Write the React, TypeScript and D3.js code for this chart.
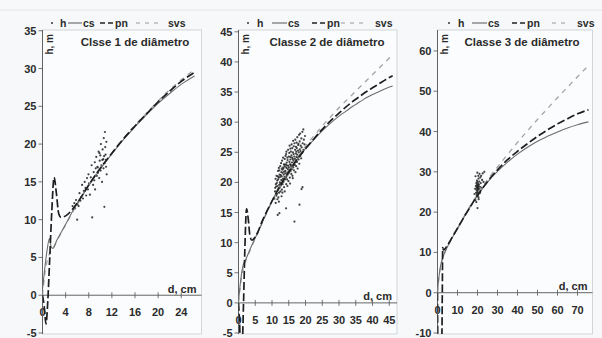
import React, { useEffect } from 'react';
import * as d3 from 'd3';

type P = [number, number];

// ---------- Panel 1 ----------
const p1Title = 'Clsse 1 de diâmetro';
const p1XTicks = [0, 4, 8, 12, 16, 20, 24];
const p1YTicks = [-5, 0, 5, 10, 15, 20, 25, 30, 35];
const p1Points: P[] = [
  [5.2, 11.8], [5.5, 12.2], [5.65, 11.5], [5.8, 12.6], [6.0, 10.0], [6.05, 12.0], [6.15, 12.3], [6.25, 11.8],
  [6.4, 13.5], [6.55, 12.5], [6.7, 13.0], [6.85, 14.6], [7.0, 12.8], [7.15, 13.8], [7.3, 15.0], [7.45, 14.2],
  [7.55, 13.2], [7.7, 15.5], [7.85, 14.0], [7.95, 16.0], [8.05, 14.8], [8.2, 13.3], [8.35, 15.6], [8.5, 17.2],
  [8.6, 10.3], [8.75, 14.6], [8.85, 16.3], [8.95, 15.2], [9.05, 17.6], [9.1, 14.0], [9.2, 16.8], [9.3, 18.3],
  [9.4, 15.8], [9.5, 17.0], [9.6, 16.2], [9.7, 19.0], [9.8, 15.5], [9.9, 17.8], [10.0, 18.5], [10.05, 16.5],
  [10.1, 20.0], [10.2, 17.2], [10.3, 15.0], [10.4, 19.3], [10.5, 18.0], [10.55, 16.8], [10.6, 20.8], [10.7, 11.7],
  [10.75, 17.5], [10.8, 21.6], [10.85, 19.6], [10.9, 18.6], [11.0, 17.0], [11.05, 20.3], [11.1, 16.0], [10.35, 17.9],
  [9.85, 18.8], [10.65, 18.4], [9.55, 16.9], [10.95, 17.9],
];
const p1Cs: P[] = [
  [0, 0.8], [0.4, 3.6], [0.8, 6.0], [1.2, 7.5], [1.5, 6.4], [1.8, 6.2], [2.5, 7.3], [3.5, 8.7], [4.5, 10.1],
  [5.5, 11.5], [6, 12.1], [8, 14.5], [10, 16.7], [12, 18.7], [14, 20.6], [16, 22.3], [18, 23.9], [20, 25.4],
  [22, 26.7], [24, 27.9], [26.3, 29.0],
];
const p1Pn: P[] = [
  [0, 0], [0.3, -1.5], [0.6, -3.8], [0.9, -1], [1.2, 4], [1.6, 11], [2.0, 15.6], [2.4, 13.5], [2.8, 10.8],
  [3.2, 10.3], [4.0, 10.5], [5.0, 11.2], [6.0, 12.2], [8, 14.6], [10, 16.8], [12, 18.8], [14, 20.7],
  [16, 22.4], [18, 24.0], [20, 25.6], [22, 27.0], [24, 28.3], [26.3, 29.5],
];
const p1Svs: P[] = [
  [0, 0], [0.4, 2.8], [0.9, 4.8], [1.4, 5.8], [1.8, 6.2], [2.5, 7.2], [3.5, 8.6], [4.5, 10.0], [5.5, 11.4],
  [6, 12.1], [8, 14.6], [10, 16.8], [12, 18.8], [14, 20.7], [16, 22.5], [18, 24.1], [20, 25.7], [22, 27.2],
  [24, 28.5], [26.3, 29.9],
];

// ---------- Panel 2 ----------
const p2Title = 'Classe 2 de diâmetro';
const p2XTicks = [0, 5, 10, 15, 20, 25, 30, 35, 40, 45];
const p2YTicks = [-5, 0, 5, 10, 15, 20, 25, 30, 35, 40, 45];
const p2Points: P[] = [
  [10.7, 17.3], [10.9, 18.5], [11.1, 16.6], [10.95, 19.1], [11.15, 19.7], [11.05, 20.6], [11.3, 17.8], [11.25, 19.3],
  [11.35, 21.1], [11.5, 18.1], [11.45, 19.9], [11.55, 20.3], [11.6, 17.2], [11.7, 18.7], [11.65, 19.4], [11.75, 21.0],
  [11.8, 21.9], [11.7, 14.6], [11.9, 17.5], [11.95, 19.0], [11.85, 20.5], [12.05, 22.4], [12.1, 18.3], [12.15, 19.6],
  [12.0, 20.8], [12.25, 21.3], [12.05, 16.8], [12.3, 19.1], [12.35, 20.0], [12.2, 22.0], [12.45, 22.7], [12.2, 14.9],
  [12.5, 18.5], [12.55, 19.8], [12.4, 20.9], [12.6, 21.2], [12.7, 23.2], [12.65, 19.5], [12.75, 20.4], [12.8, 21.7],
  [12.9, 22.3], [12.85, 17.7], [12.95, 18.8], [13.05, 20.3], [12.9, 21.0], [13.1, 22.1], [13.0, 23.6], [13.15, 19.7],
  [13.25, 20.6], [13.2, 21.6], [13.35, 22.5], [13.3, 24.1], [13.1, 18.3], [13.45, 20.1], [13.5, 21.3], [13.4, 22.3],
  [13.55, 23.0], [13.6, 19.2], [13.7, 20.9], [13.65, 21.8], [13.75, 22.9], [13.8, 23.9], [13.85, 20.5], [13.95, 21.5],
  [13.9, 22.6], [14.05, 24.4], [13.8, 18.5], [14.1, 20.8], [14.0, 21.9], [14.15, 23.0], [14.2, 24.7], [14.25, 19.7],
  [14.3, 21.0], [14.35, 22.4], [14.4, 23.3], [14.3, 25.1], [14.5, 20.5], [14.55, 21.6], [14.45, 22.8], [14.6, 24.1],
  [14.2, 15.7], [14.7, 21.3], [14.75, 22.2], [14.65, 23.7], [14.8, 25.4], [14.6, 19.4], [14.9, 20.2], [14.95, 21.8],
  [14.85, 22.8], [15.0, 24.3], [15.1, 21.6], [15.05, 22.5], [15.2, 23.4], [15.15, 24.9], [15.25, 26.1], [15.3, 20.8],
  [15.35, 22.1], [15.4, 23.0], [15.45, 24.2], [15.5, 25.6], [15.55, 21.9], [15.6, 22.9], [15.5, 23.8], [15.65, 25.1],
  [15.4, 19.8], [15.75, 21.4], [15.7, 22.6], [15.8, 24.5], [15.85, 26.3], [15.9, 22.2], [15.95, 23.3], [16.0, 24.1],
  [16.05, 25.7], [16.1, 21.1], [16.15, 22.8], [16.2, 23.9], [16.25, 25.0], [16.3, 26.9], [16.35, 22.5], [16.4, 23.6],
  [16.45, 24.7], [16.5, 26.0], [16.2, 20.7], [16.55, 22.0], [16.6, 23.2], [16.65, 24.3], [16.7, 26.5], [16.8, 22.9],
  [16.85, 23.9], [16.9, 25.4], [16.95, 27.1], [16.7, 13.5], [17.0, 21.7], [17.05, 23.5], [17.1, 24.8], [17.15, 25.9],
  [17.2, 22.7], [17.3, 24.2], [17.25, 25.1], [17.35, 26.6], [17.45, 23.4], [17.5, 24.6], [17.4, 25.7], [17.55, 27.5],
  [17.65, 22.3], [17.7, 24.1], [17.75, 25.3], [17.8, 26.2], [17.95, 23.8], [18.0, 25.0], [17.9, 26.4], [18.05, 27.9],
  [18.2, 16.3], [18.15, 23.1], [18.3, 25.5], [18.25, 26.8], [18.45, 24.4], [18.5, 25.2], [18.55, 26.1], [18.4, 28.1],
  [18.8, 18.9], [18.7, 24.0], [18.85, 25.8], [18.75, 27.3], [19.1, 19.2], [19.0, 24.9], [19.15, 26.5], [19.05, 28.4],
  [19.4, 25.4], [19.5, 27.1], [19.35, 28.8], [19.7, 26.3], [19.85, 27.7],
];
const p2Cs: P[] = [
  [0, 0.3], [0.5, 3], [1, 5.2], [1.4, 6.3], [2, 7.0], [3, 8.3], [4, 9.6], [5, 10.8], [6, 12.0], [8, 14.5],
  [10, 16.9], [12, 19.0], [14, 20.9], [16, 22.6], [18, 24.2], [20, 25.6], [22, 26.8], [24, 28.0], [26, 29.1],
  [28, 30.1], [30, 31.0], [32, 31.8], [34, 32.6], [36, 33.3], [38, 34.0], [40, 34.6], [42, 35.1], [44, 35.6],
  [46, 36.0],
];
const p2Pn: P[] = [
  [0, 0], [0.3, -3], [0.6, -7], [1.1, -7], [1.5, 0], [1.9, 9], [2.4, 15.6], [2.9, 14], [3.4, 11.2], [4.0, 10.4],
  [4.8, 10.8], [5.8, 11.8], [7, 13.5], [8, 14.7], [10, 16.9], [12, 19.0], [14, 20.9], [16, 22.6], [18, 24.2],
  [20, 25.6], [22, 26.9], [24, 28.2], [26, 29.4], [28, 30.5], [30, 31.5], [32, 32.5], [34, 33.4], [36, 34.2],
  [38, 35.0], [40, 35.7], [42, 36.4], [44, 37.1], [46, 37.7],
];
const p2Svs: P[] = [
  [0, 0], [0.5, 2.6], [1, 4.6], [1.5, 5.8], [2, 6.7], [3, 8.1], [4, 9.4], [5, 10.7], [6, 11.9], [8, 14.4],
  [10, 16.8], [12, 19.0], [14, 21.0], [16, 22.8], [18, 24.5], [20, 26.0], [22, 27.4], [24, 28.7], [26, 30.0],
  [28, 31.2], [30, 32.4], [32, 33.5], [34, 34.6], [36, 35.7], [38, 36.8], [40, 37.9], [42, 39.0], [44, 40.1],
  [46, 41.2],
];

// ---------- Panel 3 ----------
const p3Title = 'Classe 3 de diâmetro';
const p3XTicks = [0, 10, 20, 30, 40, 50, 60, 70];
const p3YTicks = [-10, 0, 10, 20, 30, 40, 50, 60];
const p3Points: P[] = [
  [18.5, 24.5], [18.8, 25.8], [19.0, 23.0], [19.2, 26.5], [19.3, 24.8], [19.4, 27.2], [19.5, 25.5], [19.6, 26.2],
  [19.6, 24.2], [19.7, 27.8], [19.8, 25.0], [19.8, 26.8], [19.9, 25.9], [20.0, 21.0], [20.0, 24.6], [20.0, 26.3],
  [20.0, 27.5], [20.1, 25.3], [20.1, 26.0], [20.2, 24.0], [20.2, 26.7], [20.3, 25.7], [20.3, 27.1], [20.4, 25.0],
  [20.4, 26.4], [20.5, 28.3], [20.5, 23.6], [20.6, 25.9], [20.7, 26.8], [20.8, 24.7], [20.9, 27.6], [21.0, 25.6],
  [21.0, 29.5], [21.2, 26.3], [21.4, 28.6], [21.6, 27.2], [21.8, 29.0], [22.0, 26.0], [22.3, 28.0], [22.6, 29.6],
  [23.0, 27.5], [23.4, 30.0], [19.4, 22.5], [20.6, 23.2], [21.3, 24.8], [19.0, 28.9], [19.9, 29.8], [20.4, 29.0],
];
const p3Cs: P[] = [
  [0, 0], [0.5, 3], [1, 5], [1.5, 6.6], [2, 7.7], [3, 9.2], [4, 10.4], [6, 12.4], [8, 14.2], [10, 15.9],
  [12, 17.6], [14, 19.4], [16, 21.0], [18, 22.6], [20, 24.1], [22, 25.5], [24, 26.8], [26, 28.0], [28, 29.1],
  [30, 30.1], [35, 32.4], [40, 34.4], [45, 36.1], [50, 37.6], [55, 38.8], [60, 39.9], [65, 40.9], [70, 41.7],
  [75.5, 42.4],
];
const p3Pn: P[] = [
  [0, 0], [0.12, -11], [0.5, -16], [1.8, -16], [2.2, -11], [2.4, 0], [2.6, 11.2], [3.0, 10.6], [3.6, 10.8],
  [4.5, 11.4], [6, 12.6], [8, 14.3], [10, 16.0], [12, 17.7], [14, 19.4], [16, 21.0], [18, 22.6], [20, 24.1],
  [22, 25.6], [24, 26.9], [26, 28.2], [28, 29.4], [30, 30.5], [35, 33.0], [40, 35.1], [45, 37.0], [50, 38.8],
  [55, 40.4], [60, 41.9], [65, 43.2], [70, 44.4], [75.5, 45.4],
];
const p3Svs: P[] = [
  [0, 0], [0.5, 2.8], [1, 4.8], [1.5, 6.3], [2, 7.5], [3, 9.1], [4, 10.3], [6, 12.4], [8, 14.3], [10, 16.1],
  [12, 17.8], [14, 19.6], [16, 21.3], [18, 22.9], [20, 24.5], [22, 26.0], [24, 27.4], [26, 28.7], [28, 30.0],
  [30, 31.2], [35, 34.3], [40, 37.3], [45, 40.2], [50, 43.0], [55, 45.7], [60, 48.4], [65, 51.0], [70, 53.6],
  [75.5, 56.4],
];

const legendLabels = ['h', 'cs', 'pn', 'svs'];

// ---------- layout ----------
type Panel = {
  id: string;
  title: string;
  titleX: number;
  xDomain: [number, number];
  xRange: [number, number];
  yDomain: [number, number];
  xTicks: number[];
  yTicks: number[];
  points: P[];
  cs: P[];
  pn: P[];
  svs: P[];
  legend: { dot: number; h: number; cs: [number, number]; pn: [number, number]; svs: [number, number]; csT: number; pnT: number; svsT: number };
};

const TOP = 30;
const BOTTOM = 334;

const panels: Panel[] = [
  {
    id: 'p1', title: p1Title, titleX: 135, xDomain: [0, 27.5], xRange: [42.5, 201.5], yDomain: [-5, 35.1],
    xTicks: p1XTicks, yTicks: p1YTicks, points: p1Points, cs: p1Cs, pn: p1Pn, svs: p1Svs,
    legend: { dot: 52, h: 60, cs: [68, 82], csT: 83, pn: [100, 114], pnT: 115, svs: [136, 158], svsT: 168 },
  },
  {
    id: 'p2', title: p2Title, titleX: 327, xDomain: [0, 47.3], xRange: [238.5, 397], yDomain: [-5, 45.3],
    xTicks: p2XTicks, yTicks: p2YTicks, points: p2Points, cs: p2Cs, pn: p2Pn, svs: p2Svs,
    legend: { dot: 248, h: 257, cs: [272, 287], csT: 288, pn: [312, 326], pnT: 327, svs: [341, 363], svsT: 375 },
  },
  {
    id: 'p3', title: p3Title, titleX: 522, xDomain: [0, 77.5], xRange: [437.5, 592.5], yDomain: [-10, 65.2],
    xTicks: p3XTicks, yTicks: p3YTicks, points: p3Points, cs: p3Cs, pn: p3Pn, svs: p3Svs,
    legend: { dot: 449, h: 458, cs: [472, 487], csT: 488, pn: [512, 526], pnT: 527, svs: [552, 568], svsT: 577 },
  },
];

const FONT = '"Liberation Sans", Arial, sans-serif';
const TXT = '#2b2b2b';

function PanelView({ p }: { p: Panel }) {
  const x = d3.scaleLinear().domain(p.xDomain).range(p.xRange);
  const y = d3.scaleLinear().domain(p.yDomain).range([333, TOP]);
  const line = d3
    .line<P>()
    .x((d) => x(d[0]))
    .y((d) => y(d[1]))
    .curve(d3.curveMonotoneX);
  const x0 = p.xRange[0];
  const x1 = p.xRange[1];
  const y0 = y(0);
  const clipId = `clip-${p.id}`;
  const L = p.legend;
  const LY = 23;
  return (
    <g>
      <defs>
        <clipPath id={clipId}>
          <rect x={x0} y={TOP} width={x1 - x0} height={BOTTOM - TOP} />
        </clipPath>
      </defs>
      <rect x={x0} y={TOP} width={x1 - x0} height={BOTTOM - TOP} fill="#fbfcfd" stroke="#c9cdd2" strokeWidth={0.8} />

      {/* legend */}
      <g fontFamily={FONT} fontSize={10.5} fontWeight="bold" fill={TXT}>
        <circle cx={L.dot} cy={LY} r={1} fill="#333" />
        <text x={L.h} y={LY + 4}>{legendLabels[0]}</text>
        <line x1={L.cs[0]} x2={L.cs[1]} y1={LY} y2={LY} stroke="#555" strokeWidth={1} />
        <text x={L.csT} y={LY + 4}>{legendLabels[1]}</text>
        <line x1={L.pn[0]} x2={L.pn[1]} y1={LY} y2={LY} stroke="#222" strokeWidth={1.6} strokeDasharray="5,3" />
        <text x={L.pnT} y={LY + 4}>{legendLabels[2]}</text>
        <line x1={L.svs[0]} x2={L.svs[1]} y1={LY} y2={LY} stroke="#999" strokeWidth={1.2} strokeDasharray="4,5" />
        <text x={L.svsT} y={LY + 4}>{legendLabels[3]}</text>
      </g>

      {/* title */}
      <text x={p.titleX} y={46} textAnchor="middle" fontFamily={FONT} fontSize={11.5} fontWeight="bold" fill={TXT}>
        {p.title}
      </text>

      {/* x axis */}
      <line x1={x0} x2={x1} y1={y0} y2={y0} stroke="#555" strokeWidth={0.9} />
      {p.xTicks.map((t) => (
        <g key={`xt${t}`}>
          {t !== 0 && <line x1={x(t)} x2={x(t)} y1={y0 - 3} y2={y0 + 3} stroke="#555" strokeWidth={0.8} />}
          <text x={x(t)} y={y0 + 21} textAnchor="middle" fontFamily={FONT} fontSize={11} fontWeight="bold" fill={TXT}>
            {t}
          </text>
        </g>
      ))}
      <text x={x1 - 5} y={y0 - 2.5} textAnchor="end" fontFamily={FONT} fontSize={11} fontWeight="bold" fill={TXT}>
        d, cm
      </text>

      {/* y axis */}
      <line x1={x0} x2={x0} y1={TOP} y2={BOTTOM} stroke="#555" strokeWidth={0.9} />
      {p.yTicks.map((t) => (
        <g key={`yt${t}`}>
          <line x1={x0 - 4} x2={x0} y1={y(t)} y2={y(t)} stroke="#555" strokeWidth={0.8} />
          <text x={x0 - 6} y={y(t) + 4} textAnchor="end" fontFamily={FONT} fontSize={11} fontWeight="bold" fill={TXT}>
            {t}
          </text>
        </g>
      ))}
      <text
        transform={`translate(${x0 + 10},${TOP + 4}) rotate(-90)`}
        textAnchor="end"
        fontFamily={FONT}
        fontSize={10}
        fontWeight="bold"
        fill={TXT}
      >
        h, m
      </text>

      {/* data */}
      <g clipPath={`url(#${clipId})`}>
        {p.points.map((d, i) => (
          <circle key={i} cx={x(d[0])} cy={y(d[1])} r={1.1} fill="#222" fillOpacity={0.85} />
        ))}
        <path d={line(p.svs) || ''} fill="none" stroke="#a3a3a3" strokeWidth={1.3} strokeDasharray="5,5" />
        <path d={line(p.cs) || ''} fill="none" stroke="#6e6e6e" strokeWidth={1.1} />
        <path d={line(p.pn) || ''} fill="none" stroke="#1e1e1e" strokeWidth={1.7} strokeDasharray="8,3" />
      </g>
    </g>
  );
}

export default function App() {
  useEffect(() => {
    document.body.style.margin = '0';
  }, []);
  return (
    <div style={{ position: 'absolute', left: 0, top: 0, width: 602, height: 338 }}>
      <svg width={602} height={338} viewBox="0 0 602 338" style={{ display: 'block', background: '#f6f8fa' }}>
        <line x1={0} x2={602} y1={10} y2={10} stroke="#e4e7eb" strokeWidth={1} />
        {panels.map((p) => (
          <PanelView key={p.id} p={p} />
        ))}
      </svg>
    </div>
  );
}
